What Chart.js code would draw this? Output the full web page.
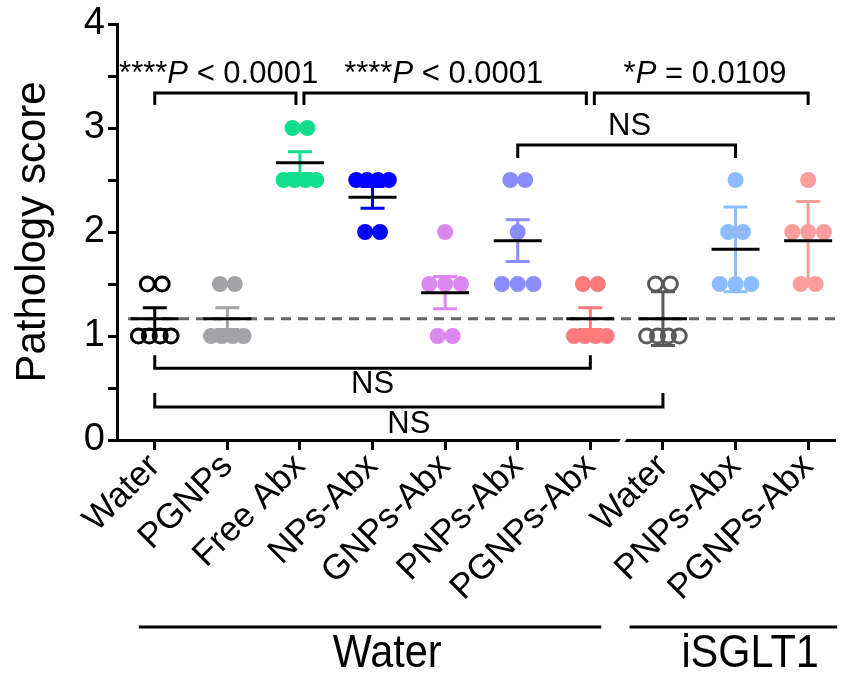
<!DOCTYPE html>
<html>
<head>
<meta charset="utf-8">
<script src="https://cdn.jsdelivr.net/npm/chart.js@4"></script>
<style>
  html, body { margin: 0; padding: 0; background: #fff; }
  #wrap { width: 845px; height: 676px; }
</style>
</head>
<body>
<div id="wrap"><canvas id="chart" width="845" height="676"></canvas></div>
<script>
// groups on the x axis
const categories = ['Water', 'PGNPs', 'Free Abx', 'NPs-Abx', 'GNPs-Abx', 'PNPs-Abx', 'PGNPs-Abx', 'Water', 'PNPs-Abx', 'PGNPs-Abx'];

// individual pathology scores per group
const scores = [
  [1.5, 1.5, 1, 1, 1, 1],
  [1.5, 1.5, 1, 1, 1, 1],
  [3, 3, 2.5, 2.5, 2.5, 2.5],
  [2.5, 2.5, 2.5, 2.5, 2, 2],
  [2, 1.5, 1.5, 1.5, 1, 1],
  [2.5, 2.5, 2, 1.5, 1.5, 1.5],
  [1.5, 1.5, 1, 1, 1, 1],
  [1.5, 1.5, 1, 1, 1, 1],
  [2.5, 2, 2, 1.5, 1.5, 1.5],
  [2.5, 2, 2, 2, 1.5, 1.5]
];

// mean and error bar half-length
const means = [1.167, 1.167, 2.667, 2.333, 1.417, 1.917, 1.167, 1.167, 1.833, 1.917];
const errors = [0.105, 0.105, 0.105, 0.105, 0.154, 0.2, 0.105, 0.258, 0.408, 0.376];

const colors = ['#000000', '#a3a3a6', '#12de8c', '#0000ff', '#dd88ee', '#8a8cff', '#ff7a7a', '#5a5a5a', '#8cbcff', '#ff9c9c'];
const hollow = [true, false, false, false, false, false, false, true, false, false];

const yTicks = [0, 1, 2, 3, 4];
const baseline = 1.167; // dashed reference line (Water mean)

// treatment groups under the axis
const groupNames = ['Water', 'iSGLT1'];
const groupSpans = [[-0.22, 6.15], [6.54, 9.4]];
const groupTextX = [3.2, 8.2];

// comparison brackets
const brackets = [
  { a: 0, b: 1.945, y: 3.337, leg: -0.115, tx: 0.88, ty: 3.43, text: [['****', 0], ['P', 1], [' < 0.0001', 0]] },
  { a: 2.055, b: 5.945, y: 3.337, leg: -0.115, tx: 3.98, ty: 3.43, text: [['****', 0], ['P', 1], [' < 0.0001', 0]] },
  { a: 6.055, b: 9, y: 3.337, leg: -0.115, tx: 7.58, ty: 3.43, text: [['*', 0], ['P', 1], [' = 0.0109', 0]] },
  { a: 5, b: 8, y: 2.837, leg: -0.125, tx: 6.54, ty: 2.93, text: [['NS', 0]] },
  { a: 0, b: 6, y: 0.69, leg: 0.125, tx: 3.0, ty: 0.452, text: [['NS', 0]] },
  { a: 0, b: 7, y: 0.317, leg: 0.135, tx: 3.5, ty: 0.067, text: [['NS', 0]] }
];

const X_MIN = -0.52, X_MAX = 9.37;
const AREA_L = 117, AREA_R = 843, AREA_T = 24, AREA_B = 440;
const PX_PER_UNIT = (AREA_R - AREA_L) / (X_MAX - X_MIN);
const FONT = "'Liberation Sans', Arial, Helvetica, sans-serif";

// spread equal values side by side like a scatter dot plot
function spread(values, center) {
  const counts = {}, seen = {};
  values.forEach(v => { counts[v] = (counts[v] || 0) + 1; });
  return values.map(v => {
    const n = counts[v];
    const k = seen[v] = (seen[v] === undefined ? 0 : seen[v] + 1);
    const gap = n === 3 ? 16 : (n === 2 ? 15 : 11);
    return { x: center + (k - (n - 1) / 2) * gap / PX_PER_UNIT, y: v };
  });
}

const datasets = scores.map((vals, i) => ({
  label: categories[i],
  data: spread(vals, i),
  pointRadius: hollow[i] ? 7 : 8,
  pointHoverRadius: hollow[i] ? 7 : 8,
  pointBorderWidth: hollow[i] ? 3 : 0,
  borderColor: colors[i],
  backgroundColor: hollow[i] ? 'rgba(0,0,0,0)' : colors[i]
}));

const refLine = {
  id: 'refLine',
  beforeDatasetsDraw(chart) {
    const { ctx, scales: { x, y } } = chart;
    const py = y.getPixelForValue(baseline);
    ctx.save();
    ctx.strokeStyle = '#666666';
    ctx.lineWidth = 3;
    ctx.setLineDash([10, 7]);
    ctx.beginPath();
    ctx.moveTo(x.left + 11, py);
    ctx.lineTo(x.right, py);
    ctx.stroke();
    ctx.restore();
  }
};

const meanBars = {
  id: 'meanBars',
  afterDatasetsDraw(chart) {
    const { ctx, scales: { x, y } } = chart;
    ctx.save();
    ctx.lineWidth = 3;
    ctx.lineCap = 'butt';
    means.forEach((m, i) => {
      const px = x.getPixelForValue(i);
      const top = y.getPixelForValue(m + errors[i]);
      const bot = y.getPixelForValue(m - errors[i]);
      ctx.strokeStyle = colors[i];
      ctx.beginPath();
      ctx.moveTo(px, top); ctx.lineTo(px, bot);
      ctx.moveTo(px - 12, top); ctx.lineTo(px + 12, top);
      ctx.moveTo(px - 12, bot); ctx.lineTo(px + 12, bot);
      ctx.stroke();
      ctx.strokeStyle = '#000';
      ctx.beginPath();
      const pm = y.getPixelForValue(m);
      ctx.moveTo(px - 24, pm); ctx.lineTo(px + 24, pm);
      ctx.stroke();
    });
    ctx.restore();
  }
};

function drawParts(ctx, parts, cx, by, size) {
  let total = 0;
  const widths = parts.map(([t, it]) => {
    ctx.font = (it ? 'italic ' : '') + size + 'px ' + FONT;
    const w = ctx.measureText(t).width;
    total += w;
    return w;
  });
  let cur = cx - total / 2;
  parts.forEach(([t, it], k) => {
    ctx.font = (it ? 'italic ' : '') + size + 'px ' + FONT;
    ctx.fillText(t, cur, by);
    cur += widths[k];
  });
}

const annotations = {
  id: 'annotations',
  afterDraw(chart) {
    const { ctx, scales: { x, y } } = chart;
    ctx.save();
    ctx.strokeStyle = '#000';
    ctx.fillStyle = '#000';
    ctx.lineWidth = 3;
    ctx.lineJoin = 'miter';
    ctx.textAlign = 'left';
    ctx.textBaseline = 'alphabetic';
    brackets.forEach(b => {
      const x1 = x.getPixelForValue(b.a), x2 = x.getPixelForValue(b.b);
      const py = y.getPixelForValue(b.y), pl = y.getPixelForValue(b.y + b.leg);
      ctx.beginPath();
      ctx.moveTo(x1, pl); ctx.lineTo(x1, py); ctx.lineTo(x2, py); ctx.lineTo(x2, pl);
      ctx.stroke();
      drawParts(ctx, b.text, x.getPixelForValue(b.tx), y.getPixelForValue(b.ty), 31);
    });

    // axis break between the two treatment groups
    const bx = x.getPixelForValue(6.45);
    const ay = y.getPixelForValue(0);
    ctx.strokeStyle = '#fff';
    ctx.lineWidth = 5;
    ctx.beginPath();
    ctx.moveTo(bx - 3, ay + 5); ctx.lineTo(bx + 3, ay - 5);
    ctx.stroke();

    // group underlines and names
    ctx.strokeStyle = '#000';
    ctx.lineWidth = 3;
    groupNames.forEach((g, i) => {
      ctx.beginPath();
      ctx.moveTo(x.getPixelForValue(groupSpans[i][0]), 627);
      ctx.lineTo(x.getPixelForValue(groupSpans[i][1]), 627);
      ctx.stroke();
      ctx.save();
      ctx.translate(x.getPixelForValue(groupTextX[i]), 667);
      ctx.scale(0.9, 1);
      ctx.font = '46px ' + FONT;
      ctx.textAlign = 'center';
      ctx.fillText(g, 0, 0);
      ctx.restore();
    });
    ctx.restore();
  }
};

new Chart(document.getElementById('chart'), {
  type: 'scatter',
  data: { datasets },
  options: {
    responsive: false,
    animation: false,
    devicePixelRatio: 1,
    layout: { padding: { top: AREA_T, right: 845 - AREA_R, left: 0, bottom: 0 } },
    plugins: { legend: { display: false }, tooltip: { enabled: false } },
    scales: {
      x: {
        type: 'linear',
        min: X_MIN,
        max: X_MAX,
        afterBuildTicks(scale) { scale.ticks = categories.map((c, i) => ({ value: i })); },
        afterFit(scale) { scale.height = 676 - AREA_B; scale.paddingLeft = 0; scale.paddingRight = 0; },
        border: { display: true, width: 3, color: '#000' },
        grid: { drawOnChartArea: false, drawTicks: true, tickLength: 10, tickWidth: 3, tickColor: '#000' },
        ticks: {
          autoSkip: false,
          minRotation: 45,
          maxRotation: 45,
          padding: -4,
          color: '#000',
          font: { family: FONT, size: 35 },
          callback: (v) => categories[v] ?? ''
        }
      },
      y: {
        min: 0,
        max: 4,
        afterBuildTicks(scale) {
          const t = [];
          for (let v = 0; v <= 4; v += 0.5) t.push({ value: v });
          scale.ticks = t;
        },
        afterFit(scale) { scale.width = AREA_L; scale.paddingTop = 0; scale.paddingBottom = 0; },
        border: { display: true, width: 3, color: '#000' },
        grid: { drawOnChartArea: false, drawTicks: true, tickLength: 9, tickWidth: 3, tickColor: '#000' },
        ticks: {
          autoSkip: false,
          padding: 3,
          color: '#000',
          font: { family: FONT, size: 38 },
          callback: (v) => yTicks.includes(v) ? String(v) : ''
        },
        title: {
          display: true,
          text: 'Pathology score',
          color: '#000',
          font: { family: FONT, size: 42 },
          padding: { top: 8, bottom: 0 }
        }
      }
    }
  },
  plugins: [refLine, meanBars, annotations]
});
</script>
</body>
</html>
